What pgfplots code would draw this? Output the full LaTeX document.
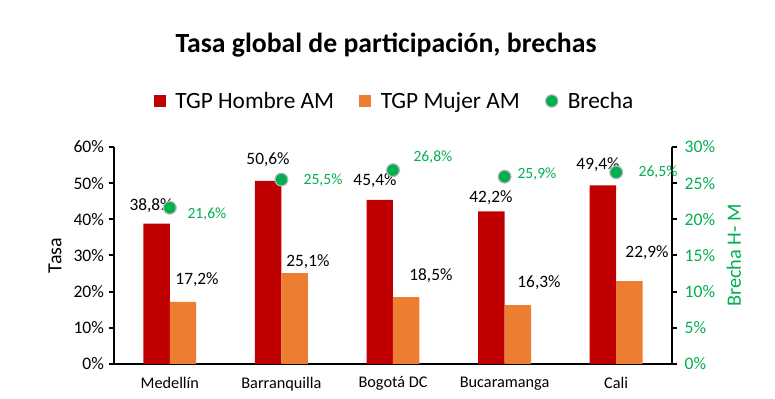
\documentclass[border=0pt]{standalone}
\usepackage{fontspec}
\setmainfont{Carlito}
\usepackage{pgfplots}
\pgfplotsset{compat=1.18}
\definecolor{cRed}{HTML}{C00000}
\definecolor{cOra}{HTML}{ED7D31}
\definecolor{cGrn}{HTML}{00B050}
\begin{document}
\begin{tikzpicture}
\pgfplotsset{
  lbl/.style={forget plot, draw=none, mark=none, point meta=explicit,
    nodes near coords={\pgfmathprintnumber[fixed,fixed zerofill,precision=1,use comma]{\pgfplotspointmeta}\%},
    nodes near coords style={anchor=center, inner sep=0pt}},
}
\begin{axis}[
  scale only axis, width=418.5pt, height=162.75pt,
  xmin=-0.5, xmax=4.5, ymin=0, ymax=60,
  xtick={0,1,2,3,4},
  xticklabels={Medellín, Barranquilla, Bogotá DC, Bucaramanga, Cali},
  x tick label style={font=\fontsize{12.2pt}{14pt}\selectfont, yshift=-2pt},
  major x tick style={draw=none},
  ytick={0,10,...,60},
  yticklabel={\pgfmathprintnumber{\tick}\%},
  /pgf/number format/assume math mode=true,
  y tick label style={font=\fontsize{13.2pt}{15pt}\selectfont},
  axis x line*=bottom, axis y line*=left,
  axis line style={line width=1.5pt, -},
  major tick length=4pt, tick align=outside,
  major y tick style={line width=1.5pt, black},
  ylabel={Tasa},
  ylabel style={at={(axis description cs:-0.1057,0.5)}, anchor=center, font=\fontsize{15pt}{17pt}\selectfont},
  legend style={at={(rel axis cs:0.5036,1.212)}, anchor=center, draw=none,
    legend columns=3, font=\fontsize{17.5pt}{20pt}\selectfont,
    /tikz/every odd column/.append style={column sep=5pt},
    /tikz/every even column/.append style={column sep=17pt}},
  legend image code/.code={\fill[#1] (1pt,-4.5pt) rectangle (10pt,4.5pt);},
  clip=false,
]
\addplot[ybar, bar width=0.237, fill=cRed, draw=none, bar shift=-0.1185] coordinates {(0,38.8) (1,50.6) (2,45.4) (3,42.2) (4,49.4)};
\addlegendentry{TGP Hombre AM}
\addplot[ybar, bar width=0.237, fill=cOra, draw=none, bar shift=0.1185] coordinates {(0,17.2) (1,25.1) (2,18.5) (3,16.3) (4,22.9)};
\addlegendentry{TGP Mujer AM}
\addlegendimage{legend image code/.code={\fill[cGrn, draw=gray!60, line width=0.8pt] (5.5pt,0pt) circle (4.6pt);}}
\addlegendentry{Brecha}
% red labels
\addplot[lbl, nodes near coords style={font=\fontsize{13pt}{15pt}\selectfont}] coordinates {
 (-0.168,43.7) [38.8] (0.880,56.4) [50.6] (1.839,50.6) [45.4] (2.878,45.9) [42.2] (3.837,55.0) [49.4]};
% orange labels
\addplot[lbl, nodes near coords style={font=\fontsize{13pt}{15pt}\selectfont}] coordinates {
 (0.244,23.2) [17.2] (1.238,28.2) [25.1] (2.340,24.3) [18.5] (3.308,22.4) [16.3] (4.276,30.7) [22.9]};
\end{axis}
\begin{axis}[
  scale only axis, width=418.5pt, height=162.75pt,
  xmin=-0.5, xmax=4.5, ymin=0, ymax=30,
  axis x line=none, axis y line*=right,
  axis line style={line width=1.5pt, -},
  ytick={0,5,...,30},
  yticklabel={\pgfmathprintnumber{\tick}\%},
  /pgf/number format/assume math mode=true,
  y tick label style={font=\fontsize{13.2pt}{15pt}\selectfont, text=cGrn, xshift=2pt},
  major tick length=4pt, tick align=outside,
  major y tick style={line width=1.5pt, black},
  ylabel={Brecha H- M},
  ylabel style={at={(axis description cs:1.111,0.5)}, anchor=center, rotate=0, text=cGrn, font=\fontsize{15.3pt}{17pt}\selectfont},
  clip=false,
]
\addplot[only marks, mark=*, mark size=4.8pt, mark options={fill=cGrn, draw=gray!55, line width=0.9pt}] coordinates {(0,21.6) (1,25.5) (2,26.8) (3,25.9) (4,26.5)};
\addplot[lbl, nodes near coords style={font=\fontsize{11.7pt}{13pt}\selectfont, text=cGrn}] coordinates {
 (0.333,20.7) [21.6] (1.373,25.4) [25.5] (2.358,28.6) [26.8] (3.290,26.3) [25.9] (4.375,26.5) [26.5]};
\end{axis}
\node[font=\bfseries\fontsize{20.8pt}{24pt}\selectfont] at (204pt,239.25pt) {Tasa global de participación, brechas};
\pgfresetboundingbox
\path[use as bounding box] (-85.5pt,-26.25pt) rectangle (495.75pt,273pt);
\end{tikzpicture}
\end{document}
